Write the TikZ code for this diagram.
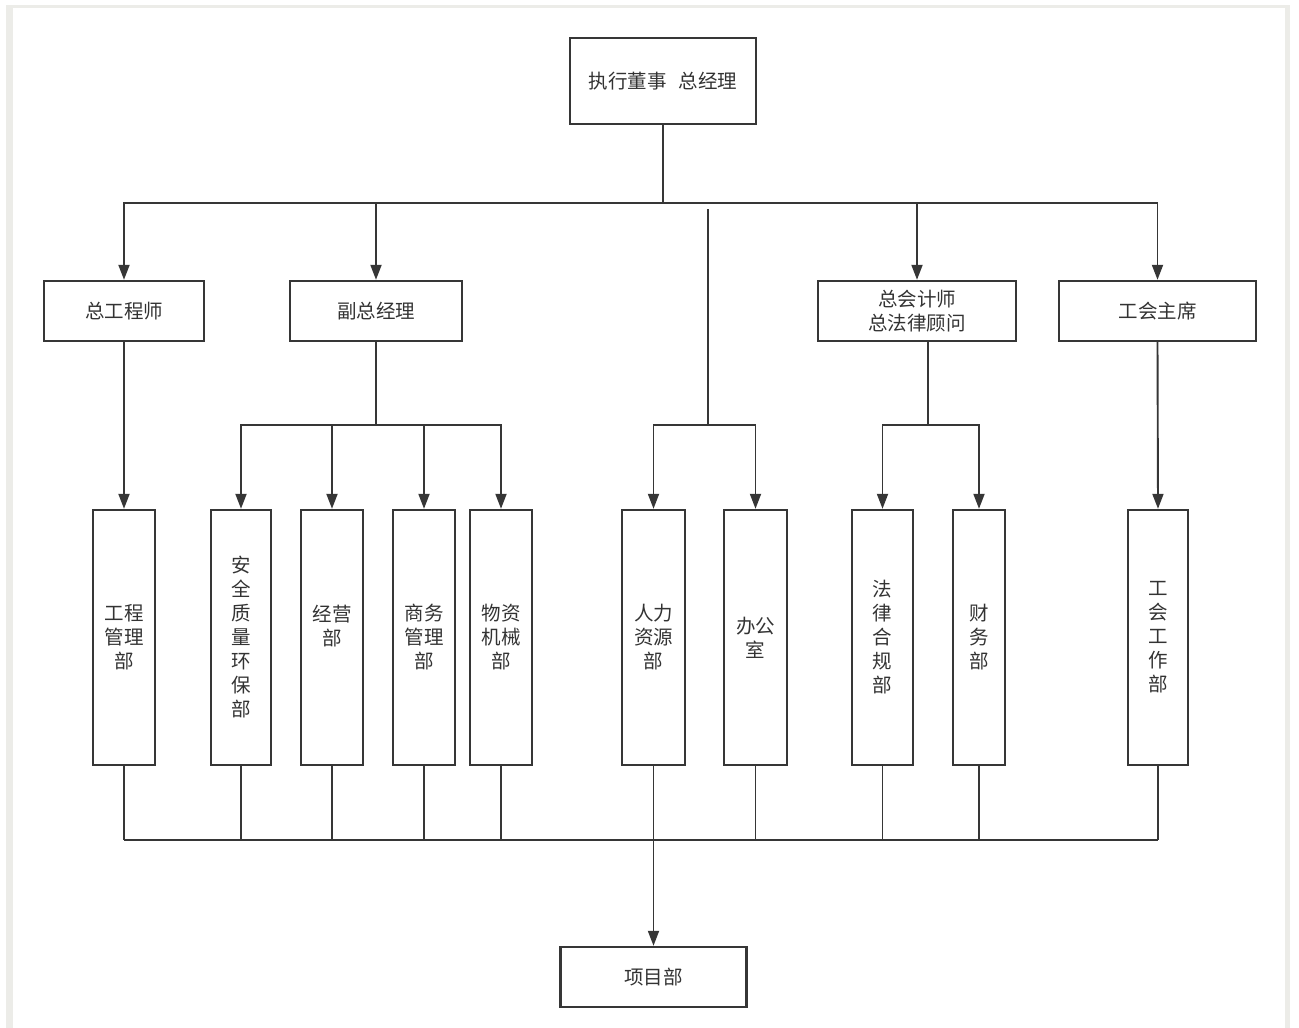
\documentclass[tikz,border=0pt]{standalone}
\usepackage{fontspec}
\setmainfont{Noto Sans CJK SC}
\usetikzlibrary{arrows.meta}
\definecolor{ln}{HTML}{363636}
\definecolor{txt}{HTML}{333333}
\definecolor{framec}{HTML}{ECECE8}
\begin{document}
\begin{tikzpicture}[x=1pt,y=-1pt,
  box/.style={draw=ln, line width=2.4pt, rectangle, inner sep=0pt, text=txt,
    font=\fontsize{19.5}{24}\selectfont, align=center},
  wide/.style={box, minimum height=60pt},
  tall/.style={box, minimum height=255pt},
  conn/.style={draw=ln, line width=1.9pt},
  arr/.style={conn, -{Triangle[length=15pt,width=11pt]}}]
\useasboundingbox (0,0) rectangle (1299,1028);
% frame
\fill[framec] (6,5) rectangle (13,1028);
\fill[framec] (6,5) rectangle (1290,8);
\fill[framec] (1285,5) rectangle (1290,1028);

% nodes
\node[box, minimum width=186pt, minimum height=86pt] (top) at (663,81) {执行董事\hspace{12pt}总经理};
\node[wide, minimum width=160pt] (zgcs) at (124,311) {总工程师};
\node[wide, minimum width=172pt] (fzjl) at (376,311) {副总经理};
\node[wide, minimum width=198pt] (zkjs) at (917,311) {总会计师\\总法律顾问};
\node[wide, minimum width=197pt] (ghzx) at (1157.5,311) {工会主席};

\node[tall, minimum width=62pt] (gcgl) at (124,637.5) {工程\\管理\\部};
\node[tall, minimum width=60pt] (aqzl) at (241,637.5) {安\\全\\质\\量\\环\\保\\部};
\node[tall, minimum width=62pt] (jyb) at (332,637.5) {经营\\部\\\mbox{}};
\node[tall, minimum width=62pt] (swgl) at (424,637.5) {商务\\管理\\部};
\node[tall, minimum width=62pt] (wzjx) at (501,637.5) {物资\\机械\\部};
\node[tall, minimum width=63pt] (rlzy) at (653.5,637.5) {人力\\资源\\部};
\node[tall, minimum width=63pt] (bgs) at (755.5,637.5) {办公\\室};
\node[tall, minimum width=61pt] (flhg) at (882.5,637.5) {法\\律\\合\\规\\部};
\node[tall, minimum width=52pt] (cwb) at (979,637.5) {财\\务\\部};
\node[tall, minimum width=60pt] (ghgz) at (1158,637.5) {工\\会\\工\\作\\部};

\node[box, minimum width=186pt, minimum height=60pt] (xmb) at (653.5,977) {项目部};

% top bus
\coordinate (b1) at (663,203);
\draw[conn] (top.south) -- (b1);
\draw[arr] (b1) -| (zgcs.north);
\draw[arr] (b1) -| (fzjl.north);
\draw[arr] (b1) -| (zkjs.north);
\draw[arr] (b1) -| (ghzx.north);

% direct lines
\draw[arr] (zgcs.south) -- (gcgl.north);
\draw[arr] (ghzx.south) -- (ghgz.north);

% vice GM
\coordinate (f1) at (376,425);
\draw[conn] (fzjl.south) -- (f1);
\draw[arr] (f1) -| (aqzl.north);
\draw[arr] (f1) -| (jyb.north);
\draw[arr] (f1) -| (swgl.north);
\draw[arr] (f1) -| (wzjx.north);

% middle
\coordinate (m0) at (708,209);
\coordinate (m1) at (708,425);
\draw[conn] (m0) -- (m1);
\draw[arr] (m1) -| (rlzy.north);
\draw[arr] (m1) -| (bgs.north);

% chief accountant
\coordinate (k1) at (928,425);
\draw[conn] (zkjs.south -| k1) -- (k1);
\draw[arr] (k1) -| (flhg.north);
\draw[arr] (k1) -| (cwb.north);

% bottom bus
\coordinate (bl) at (124,840);
\coordinate (br) at (1158,840);
\draw[conn] (bl) -- (br);
\foreach \n in {gcgl,aqzl,jyb,swgl,wzjx,bgs,flhg,cwb,ghgz}
  \draw[conn] (\n.south) -- (\n.south |- bl);
\draw[arr] (rlzy.south) -- (xmb.north);
\end{tikzpicture}
\end{document}
